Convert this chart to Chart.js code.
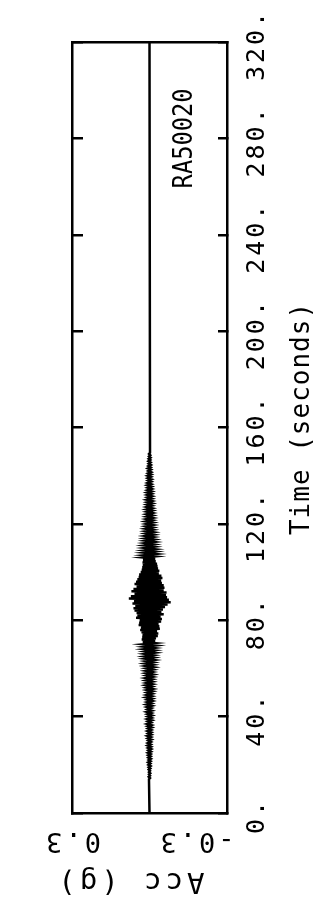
<!DOCTYPE html>
<html>
<head>
<meta charset="utf-8">
<script src="https://cdn.jsdelivr.net/npm/chart.js@4/dist/chart.umd.min.js"></script>
<style>
html,body{margin:0;padding:0;background:#fff;}
canvas{display:block;}
</style>
</head>
<body>
<canvas id="c" width="327" height="909"></canvas>
<script>
// ---------------- data ----------------
const STATION = 'RA50020';
const TIME_TITLE = 'Time (seconds)';
const ACC_TITLE = 'Acc (g)';
const TIME_MIN = 0, TIME_MAX = 320;
const TIME_TICKS = [0, 40, 80, 120, 160, 200, 240, 280, 320];
const TIME_TICK_LABELS = ['0.', '40.', '80.', '120.', '160.', '200.', '240.', '280.', '320.'];
const ACC_MIN = -0.3, ACC_MAX = 0.3;
const ACC_TICKS = [0.3, -0.3];
const ACC_TICK_LABELS = ['0.3', '-0.3'];
const QUIET_LEVEL = 0;          // record is flat before/after the shaking
const T_START = 14;             // first active sample (s)
const DT = 0.5;                 // sample spacing of the values below (s)
const ACC = [
  0.002,-0.002,0.003,-0.002,0.002,-0.003,0.002,-0.002,0.003,-0.003,
  0.003,-0.004,0.004,-0.003,0.005,-0.004,0.003,-0.005,0.004,-0.004,
  0.005,-0.004,0.006,-0.005,0.004,-0.006,0.005,-0.005,0.007,-0.004,
  0.006,-0.005,0.004,-0.007,0.006,-0.005,0.008,-0.006,0.005,-0.006,
  0.007,-0.006,0.005,-0.008,0.006,-0.007,0.009,-0.005,0.006,-0.008,
  0.008,-0.007,0.006,-0.009,0.007,-0.006,0.010,-0.008,0.007,-0.006,
  0.009,-0.008,0.011,-0.007,0.008,-0.010,0.007,-0.009,0.012,-0.008,
  0.010,-0.009,0.008,-0.011,0.009,-0.012,0.010,-0.008,0.013,-0.010,
  0.011,-0.010,0.012,-0.009,0.014,-0.011,0.010,-0.013,0.012,-0.010,
  0.013,-0.012,0.011,-0.015,0.014,-0.012,0.016,-0.013,0.012,-0.017,
  0.015,-0.014,0.018,-0.013,0.016,-0.019,0.014,-0.017,0.020,-0.016,
  0.018,-0.021,0.024,-0.019,0.026,-0.022,0.030,-0.025,0.028,-0.032,
  0.027,-0.034,0.031,-0.029,0.036,-0.040,0.033,-0.038,0.042,-0.035,
  0.040,-0.045,0.038,-0.048,0.052,-0.043,0.047,-0.055,0.050,-0.046,
  0.058,-0.052,0.062,-0.060,0.055,-0.070,0.066,-0.082,0.060,-0.075,
  0.080,-0.068,0.072,-0.064,0.058,-0.066,0.070,-0.055,0.062,-0.058,
  0.050,-0.055,0.058,-0.048,0.052,-0.045,0.047,-0.050,0.042,-0.046,
  0.040,-0.036,0.034,-0.038,0.030,-0.033,0.028,-0.031,0.026,-0.029,
  0.027,-0.024,0.025,-0.022,0.024,-0.021,0.020,-0.023,0.019,-0.020,
  0.018,-0.020,0.017,-0.016,0.019,-0.015,0.016,-0.018,0.014,-0.016,
  0.015,-0.013,0.016,-0.014,0.012,-0.015,0.013,-0.012,0.014,-0.011,
  0.012,-0.013,0.011,-0.012,0.013,-0.010,0.011,-0.012,0.010,-0.011,
  0.010,-0.011,0.009,-0.010,0.011,-0.009,0.010,-0.008,0.009,-0.010,
  0.008,-0.009,0.010,-0.008,0.007,-0.009,0.008,-0.007,0.009,-0.008,
  0.007,-0.008,0.006,-0.007,0.008,-0.006,0.007,-0.006,0.005,-0.007,
  0.006,-0.005,0.007,-0.006,0.005,-0.006,0.004,-0.005,0.006,-0.004,
  0.004,-0.005,0.003,-0.004,0.004,-0.003,0.003,-0.004,0.002,-0.003,
  0.002,-0.002
];

// ---------------- styling / layout ----------------
const FONT = '"DejaVu Sans Mono", "Liberation Mono", monospace';
const ACC_LABEL_SHIFT = [0, -31];

const points = [{x: QUIET_LEVEL, y: TIME_MIN}];
ACC.forEach((a, i) => points.push({x: a, y: T_START + i * DT}));
points.push({x: QUIET_LEVEL, y: TIME_MAX});

const textPlugin = {
  id: 'plotTexts',
  beforeLayout(chart) { chart.ctx.letterSpacing = '3px'; },
  beforeDraw(chart) {
    const ctx = chart.ctx;
    ctx.save();
    ctx.fillStyle = '#fff';
    ctx.fillRect(0, 0, chart.width, chart.height);
    ctx.restore();
    ctx.letterSpacing = '3px';
  },
  afterDraw(chart) {
    const {ctx, chartArea: ca, scales} = chart;
    const xs = scales.x, ys = scales.y;
    ctx.save();
    ctx.fillStyle = '#000';

    // Acc tick labels (upside down)
    ctx.font = '27px ' + FONT;
    ctx.letterSpacing = '3px';
    ctx.textAlign = 'center';
    ctx.textBaseline = 'alphabetic';
    ACC_TICKS.forEach((v, i) => {
      const px = xs.getPixelForValue(v) + ACC_LABEL_SHIFT[i];
      ctx.save();
      ctx.translate(px, ca.bottom + 20);
      ctx.rotate(Math.PI);
      ctx.fillText(ACC_TICK_LABELS[i], 0, 0);
      ctx.restore();
    });

    // Acc title (upside down)
    ctx.font = '29px ' + FONT;
    ctx.letterSpacing = '4px';
    ctx.save();
    ctx.translate((ca.left + ca.right) / 2 - 20, ca.bottom + 60);
    ctx.rotate(Math.PI);
    ctx.fillText(ACC_TITLE, 0, 0);
    ctx.restore();

    // Time title (reads bottom to top)
    ctx.font = '26px ' + FONT;
    ctx.letterSpacing = '1px';
    ctx.save();
    ctx.translate(ca.right + 82, (ca.top + ca.bottom) / 2 - 9);
    ctx.rotate(-Math.PI / 2);
    ctx.fillText(TIME_TITLE, 0, 0);
    ctx.restore();

    // Station label inside the frame
    ctx.font = '27px ' + FONT;
    ctx.letterSpacing = '0px';
    ctx.save();
    ctx.translate(xs.getPixelForValue(-0.124) + 10, ys.getPixelForValue(280));
    ctx.rotate(-Math.PI / 2);
    ctx.fillText(STATION, 0, 0, 100);
    ctx.restore();

    ctx.restore();
  }
};

const blackBorder = {display: true, color: '#000', width: 2.5};

new Chart(document.getElementById('c'), {
  type: 'line',
  data: {
    datasets: [{
      data: points,
      xAxisID: 'x',
      yAxisID: 'y',
      borderColor: '#000',
      borderWidth: 2.5,
      pointRadius: 0,
      fill: false,
      tension: 0
    }]
  },
  options: {
    indexAxis: 'y',
    responsive: false,
    animation: false,
    events: [],
    layout: {padding: {left: 72, top: 42, right: 0, bottom: 96}},
    plugins: {legend: {display: false}, tooltip: {enabled: false}, title: {display: false}},
    scales: {
      x: {
        type: 'linear', position: 'bottom', min: ACC_MIN, max: ACC_MAX, reverse: true,
        ticks: {display: false},
        grid: {drawOnChartArea: false, drawTicks: false},
        border: blackBorder,
        afterFit(s) { s.height = 0; }
      },
      x2: {
        type: 'linear', position: 'top', min: ACC_MIN, max: ACC_MAX, reverse: true,
        ticks: {display: false},
        grid: {drawOnChartArea: false, drawTicks: false},
        border: blackBorder,
        afterFit(s) { s.height = 0; }
      },
      y: {
        type: 'linear', position: 'right', min: TIME_MIN, max: TIME_MAX,
        afterBuildTicks(s) { s.ticks = TIME_TICKS.map(v => ({value: v})); },
        ticks: {
          callback: (v, i) => TIME_TICK_LABELS[i],
          minRotation: 90, maxRotation: 90,
          crossAlign: 'center', padding: 3, labelOffset: 3, autoSkip: false,
          color: '#000',
          font: {family: FONT, size: 25}
        },
        grid: {drawOnChartArea: false, drawTicks: true, tickLength: -9, color: '#000', lineWidth: 2.5},
        border: blackBorder,
        afterFit(s) { s.width = 100; }
      },
      y2: {
        type: 'linear', position: 'left', min: TIME_MIN, max: TIME_MAX,
        afterBuildTicks(s) { s.ticks = TIME_TICKS.map(v => ({value: v})); },
        ticks: {display: false},
        grid: {drawOnChartArea: false, drawTicks: true, tickLength: -11, color: '#000', lineWidth: 2.5},
        border: blackBorder,
        afterFit(s) { s.width = 0; }
      }
    }
  },
  plugins: [textPlugin]
});
</script>
</body>
</html>
